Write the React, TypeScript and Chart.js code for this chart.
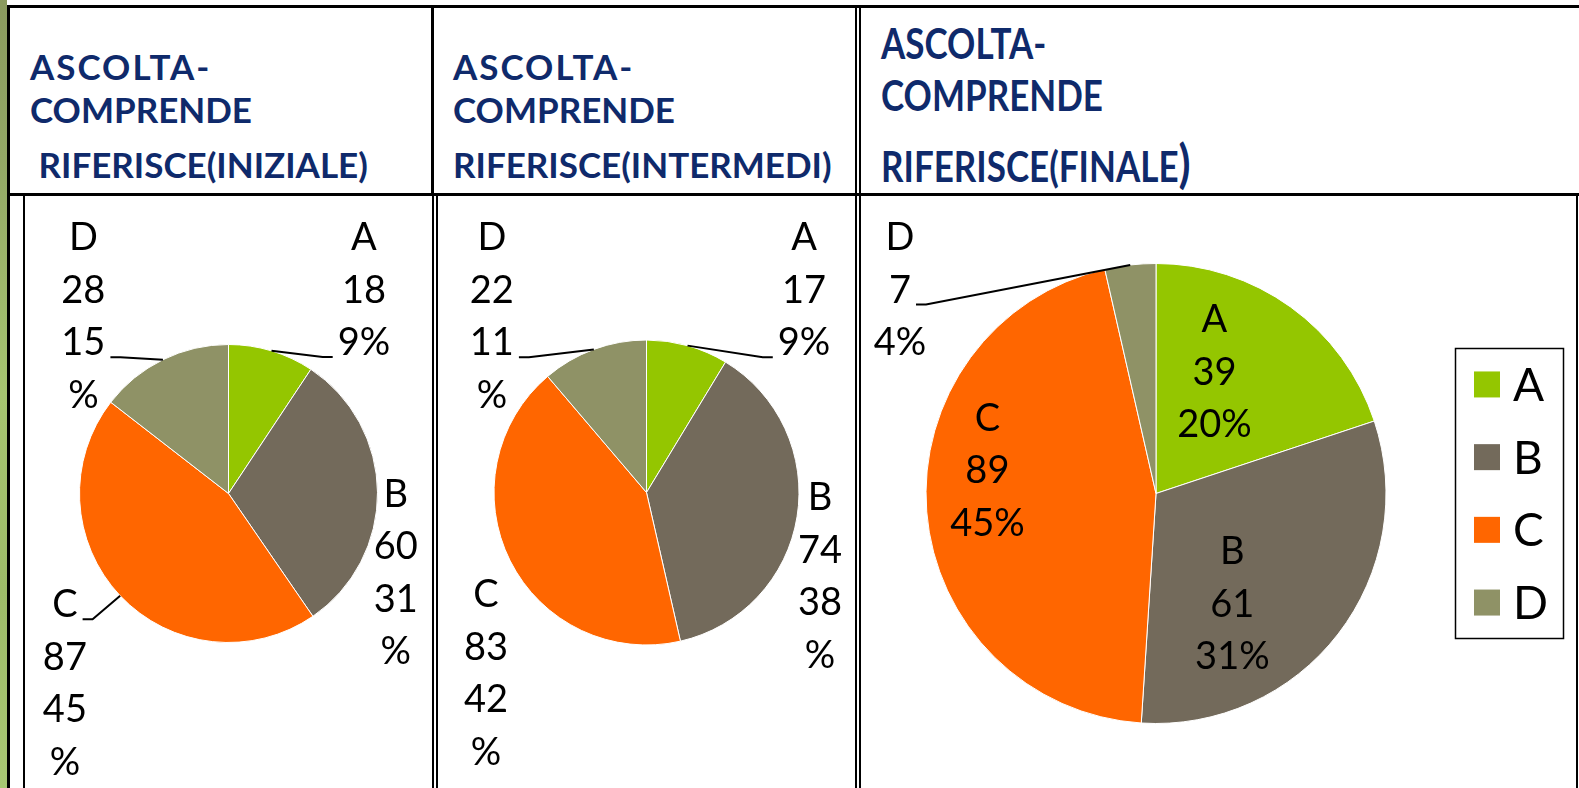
import React, { useEffect, useRef } from "react";
import { Chart, registerables } from "chart.js";

Chart.register(...registerables);

// ---------- data ----------
const categories = ["A", "B", "C", "D"];
const initialValues = [18, 60, 87, 28];
const intermediateValues = [17, 74, 83, 22];
const finalValues = [39, 61, 89, 7];
const sliceColors = ["#94C600", "#736A5B", "#FF6600", "#8F9266"];

const header1 = ["ASCOLTA-", "COMPRENDE", "\u00a0RIFERISCE(INIZIALE)"];
const header2 = ["ASCOLTA-", "COMPRENDE", "RIFERISCE(INTERMEDI)"];
const header3 = ["ASCOLTA-", "COMPRENDE", "RIFERISCE(FINALE"];

// ---------- label placement styles (relative to pie centre, in radius units) ----------
type LabelStyle = { ux: number; uy: number; split: boolean; leader: boolean };

const labelLayout1: LabelStyle[] = [
  { ux: 0.909, uy: -1.726, split: false, leader: true },
  { ux: 1.122, uy: -0.003, split: true, leader: false },
  { ux: -1.098, uy: 0.739, split: true, leader: true },
  { ux: -0.974, uy: -1.725, split: true, leader: true },
];
const labelLayout2: LabelStyle[] = [
  { ux: 1.033, uy: -1.679, split: false, leader: true },
  { ux: 1.138, uy: 0.026, split: true, leader: false },
  { ux: -1.053, uy: 0.663, split: true, leader: false },
  { ux: -1.014, uy: -1.679, split: true, leader: true },
];
const labelLayout3: LabelStyle[] = [
  { ux: 0.254, uy: -0.761, split: false, leader: false },
  { ux: 0.332, uy: 0.249, split: false, leader: false },
  { ux: -0.733, uy: -0.332, split: false, leader: false },
  { ux: -1.113, uy: -1.118, split: false, leader: true },
];

const LABEL_FONT = "Lato";
const LABEL_SIZE = 38;
const LABEL_LH = 52.5;

function makeLabelPlugin(layout: LabelStyle[]) {
  return {
    id: "pieLabels",
    afterDatasetsDraw(chart: any) {
      const ctx: CanvasRenderingContext2D = chart.ctx;
      const meta = chart.getDatasetMeta(0);
      const values = chart.data.datasets[0].data as number[];
      const total = values.reduce((a, b) => a + b, 0);
      const labels = chart.data.labels as string[];
      ctx.save();
      ctx.font = `${LABEL_SIZE}px ${LABEL_FONT}`;
      ctx.fillStyle = "#000";
      ctx.strokeStyle = "#000";
      ctx.lineWidth = 2;
      ctx.textAlign = "center";
      ctx.textBaseline = "alphabetic";
      const capOff = LABEL_SIZE * 0.36;
      meta.data.forEach((el: any, i: number) => {
        const p = el.getProps(["x", "y", "startAngle", "endAngle", "outerRadius"], true);
        const st = layout[i];
        const pct = Math.round((values[i] / total) * 100);
        const lines = st.split
          ? [labels[i], String(values[i]), String(pct), "%"]
          : [labels[i], String(values[i]), pct + "%"];
        const ax = p.x + st.ux * p.outerRadius;
        const ay = p.y + st.uy * p.outerRadius;
        lines.forEach((t, k) => ctx.fillText(t, ax, ay + k * LABEL_LH + capOff));
        if (st.leader) {
          const mid = (p.startAngle + p.endAngle) / 2;
          const ex = p.x + Math.cos(mid) * p.outerRadius;
          const ey = p.y + Math.sin(mid) * p.outerRadius;
          let best = 0;
          let bd = Infinity;
          lines.forEach((_t, k) => {
            const d = Math.abs(ay + k * LABEL_LH - ey);
            if (d < bd) {
              bd = d;
              best = k;
            }
          });
          const w = ctx.measureText(lines[best]).width;
          const side = ex < ax ? -1 : 1;
          const px = ax + side * (w / 2 + 5);
          const py = ay + best * LABEL_LH + capOff + 2;
          ctx.beginPath();
          ctx.moveTo(px, py);
          ctx.lineTo(px + side * 10, py);
          ctx.lineTo(ex, ey);
          ctx.stroke();
        }
      });
      ctx.restore();
    },
  };
}

// Boxed legend drawn at the right of the chart area, vertically centred on it
const LEGEND_FONT_SIZE = 46;
const LEGEND_BOX = 26;
const LEGEND_PITCH = 72.7;
const boxedLegendPlugin = {
  id: "boxedLegend",
  afterDraw(chart: any) {
    const ctx: CanvasRenderingContext2D = chart.ctx;
    const labels = chart.data.labels as string[];
    const colors = chart.data.datasets[0].backgroundColor as string[];
    const area = chart.chartArea;
    const cy = (area.top + area.bottom) / 2;
    const frameRight = chart.width - 16;
    const sqLeft = frameRight - 89;
    const textLeft = sqLeft + 39;
    const n = labels.length;
    const firstCenter = cy - ((n - 1) / 2) * LEGEND_PITCH;
    ctx.save();
    ctx.font = `${LEGEND_FONT_SIZE}px ${LABEL_FONT}`;
    ctx.textAlign = "left";
    ctx.textBaseline = "alphabetic";
    labels.forEach((lab, i) => {
      const c = firstCenter + i * LEGEND_PITCH;
      ctx.fillStyle = colors[i];
      ctx.fillRect(sqLeft, c - LEGEND_BOX / 2, LEGEND_BOX, LEGEND_BOX);
      ctx.fillStyle = "#000";
      ctx.fillText(lab, textLeft, c + LEGEND_FONT_SIZE * 0.36);
    });
    const top = firstCenter - LEGEND_BOX / 2 - 23;
    const bottom = firstCenter + (n - 1) * LEGEND_PITCH + LEGEND_BOX / 2 + 23;
    const left = sqLeft - 19;
    ctx.strokeStyle = "#000";
    ctx.lineWidth = 1.5;
    ctx.strokeRect(Math.round(left) + 0.5, Math.round(top) + 0.5, Math.round(frameRight - left), Math.round(bottom - top));
    ctx.restore();
  },
};

type Box = { x: number; y: number; w: number; h: number };

function PiePanel(props: {
  values: number[];
  layout: LabelStyle[];
  box: Box;
  padding: { left: number; right: number; top: number; bottom: number };
  legend?: boolean;
}) {
  const ref = useRef<HTMLCanvasElement>(null);
  useEffect(() => {
    const chart = new Chart(ref.current as HTMLCanvasElement, {
      type: "pie",
      data: {
        labels: categories,
        datasets: [
          {
            data: props.values,
            backgroundColor: sliceColors,
            borderColor: "#ffffff",
            borderWidth: 1,
            hoverBorderWidth: 1,
            hoverOffset: 0,
            offset: 0,
          } as any,
        ],
      },
      options: {
        responsive: false,
        animation: false,
        devicePixelRatio: 1,
        events: [],
        layout: { padding: props.padding },
        plugins: {
          tooltip: { enabled: false },
          legend: { display: false },
        },
      } as any,
      plugins: [makeLabelPlugin(props.layout), ...(props.legend ? [boxedLegendPlugin] : [])],
    });
    return () => chart.destroy();
  }, []);
  const b = props.box;
  return (
    <canvas
      ref={ref}
      width={b.w}
      height={b.h}
      style={{ position: "absolute", left: b.x, top: b.y, width: b.w, height: b.h, display: "block" }}
    />
  );
}

const line = (x: number, y: number, w: number, h: number, key: string) => (
  <div key={key} style={{ position: "absolute", left: x, top: y, width: w, height: h, background: "#000", zIndex: 5 }} />
);

const headStyle: React.CSSProperties = {
  position: "absolute",
  fontFamily: "Lato, 'Open Sans', sans-serif",
  fontWeight: 700,
  fontSize: 35,
  lineHeight: "35px",
  color: "#0F2A6B",
  whiteSpace: "pre",
  margin: 0,
};

export default function App() {
  const baselines12 = [80, 123, 178];
  const baselines3 = [58.4, 110.8, 179];
  return (
    <div
      style={{
        position: "fixed",
        left: 0,
        top: 0,
        width: 1579,
        height: 788,
        overflow: "hidden",
        background: "#ffffff",
      }}
    >
      {/* green decorative strip */}
      <div
        style={{
          position: "absolute",
          left: 0,
          top: 0,
          width: 7,
          height: 788,
          background: "linear-gradient(180deg, #8A9A5E 0%, #93A865 20%, #A6C570 50%, #9DBB68 75%, #A9C873 100%)",
        }}
      />

      {/* headers */}
      {header1.map((t, i) => (
        <div key={"h1" + i} style={{ ...headStyle, left: 30, top: baselines12[i] - 31, letterSpacing: i === 0 ? 2 : 0 }}>
          {t}
        </div>
      ))}
      {header2.map((t, i) => (
        <div key={"h2" + i} style={{ ...headStyle, left: 453, top: baselines12[i] - 31, letterSpacing: i === 0 ? 2 : 0 }}>
          {t}
        </div>
      ))}
      {header3.map((t, i) => (
        <div
          key={"h3" + i}
          style={{
            ...headStyle,
            left: 881,
            top: baselines3[i] - 31 * 1.18,
            transform: "scale(1, 1.18)",
            transformOrigin: "0 0",
          }}
        >
          {t}
          {i === 2 ? <span style={{ fontSize: 44 }}>)</span> : null}
        </div>
      ))}

      {/* charts */}
      <PiePanel
        values={initialValues}
        layout={labelLayout1}
        box={{ x: 25, y: 196, w: 407, h: 592 }}
        padding={{ left: 54, right: 54, top: 148, bottom: 145 }}
      />
      <PiePanel
        values={intermediateValues}
        layout={labelLayout2}
        box={{ x: 437, y: 196, w: 418, h: 592 }}
        padding={{ left: 56.5, right: 55.5, top: 143.5, bottom: 142.5 }}
      />
      <PiePanel
        values={finalValues}
        layout={labelLayout3}
        box={{ x: 859, y: 196, w: 720, h: 592 }}
        padding={{ left: 9, right: 135, top: 67, bottom: 64 }}
        legend
      />

      {/* table borders */}
      {[
        line(7, 5, 1572, 3, "top"),
        line(7, 5, 3, 783, "leftOuter"),
        line(7, 193, 1572, 3, "headBottom"),
        line(431, 5, 3, 190, "h12"),
        line(855, 5, 1.5, 783, "v23a"),
        line(859, 5, 1.5, 783, "v23b"),
        line(23, 195, 2, 593, "c1left"),
        line(432, 195, 1.5, 593, "c12a"),
        line(436, 195, 1.5, 593, "c12b"),
        line(1576, 195, 2, 593, "right"),
      ]}
    </div>
  );
}
